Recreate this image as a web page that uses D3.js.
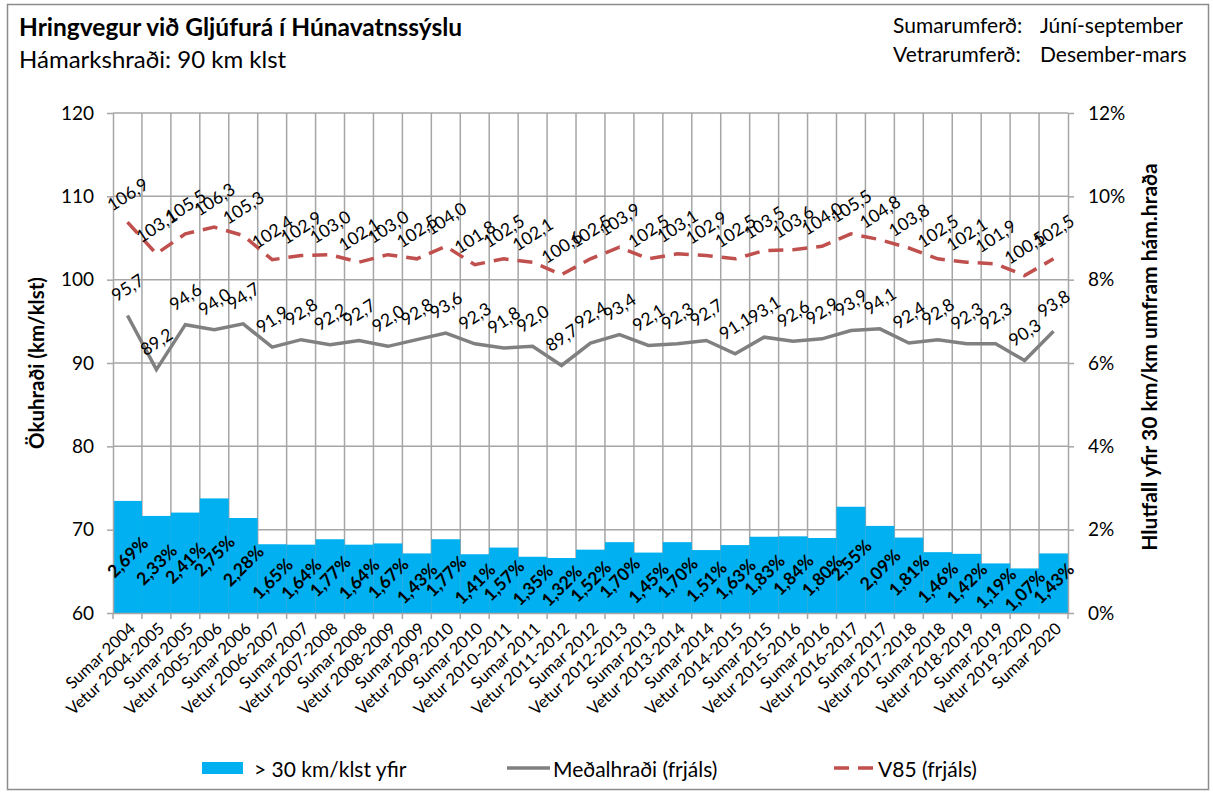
<!DOCTYPE html>
<html lang="is">
<head>
	<meta charset="UTF-8">
	<script type="text/javascript" src="https://d3js.org/d3.v7.min.js"></script>
	<title>Hringvegur við Gljúfurá</title>
	<style>
		body { margin: 0; background: #fff; }
		text { font-family: Lato, "Open Sans", sans-serif; fill: #000; }
		.grid line { stroke: #a6a6a6; stroke-width: 1.5; }
		.axis path, .axis line { stroke: #a6a6a6; stroke-width: 1.5; }
		.axis text { font-size: 19px; }
		.xaxis text { font-size: 16.5px; }
	</style>
</head>
<body>
<script type="text/javascript">
	// flokkar (tímabil)
	const periods = ["Sumar 2004", "Vetur 2004-2005", "Sumar 2005", "Vetur 2005-2006", "Sumar 2006",
		"Vetur 2006-2007", "Sumar 2007", "Vetur 2007-2008", "Sumar 2008", "Vetur 2008-2009",
		"Sumar 2009", "Vetur 2009-2010", "Sumar 2010", "Vetur 2010-2011", "Sumar 2011",
		"Vetur 2011-2012", "Sumar 2012", "Vetur 2012-2013", "Sumar 2013", "Vetur 2013-2014",
		"Sumar 2014", "Vetur 2014-2015", "Sumar 2015", "Vetur 2015-2016", "Sumar 2016",
		"Vetur 2016-2017", "Sumar 2017", "Vetur 2017-2018", "Sumar 2018", "Vetur 2018-2019",
		"Sumar 2019", "Vetur 2019-2020", "Sumar 2020"];
	// hlutfall > 30 km/klst yfir (%)
	const over30 = [2.69, 2.33, 2.41, 2.75, 2.28, 1.65, 1.64, 1.77, 1.64, 1.67,
		1.43, 1.77, 1.41, 1.57, 1.35, 1.32, 1.52, 1.70, 1.45, 1.70,
		1.51, 1.63, 1.83, 1.84, 1.80, 2.55, 2.09, 1.81, 1.46, 1.42,
		1.19, 1.07, 1.43];
	// meðalhraði (frjáls)
	const meanSpeed = [95.7, 89.2, 94.6, 94.0, 94.7, 91.9, 92.8, 92.2, 92.7, 92.0,
		92.8, 93.6, 92.3, 91.8, 92.0, 89.7, 92.4, 93.4, 92.1, 92.3,
		92.7, 91.1, 93.1, 92.6, 92.9, 93.9, 94.1, 92.4, 92.8, 92.3,
		92.3, 90.3, 93.8];
	// V85 (frjáls)
	const v85 = [106.9, 103.1, 105.5, 106.3, 105.3, 102.4, 102.9, 103.0, 102.1, 103.0,
		102.5, 104.0, 101.8, 102.5, 102.1, 100.6, 102.5, 103.9, 102.5, 103.1,
		102.9, 102.5, 103.5, 103.6, 104.0, 105.5, 104.8, 103.8, 102.5, 102.1,
		101.9, 100.5, 102.5];
	const speedTicks = [60, 70, 80, 90, 100, 110, 120];
	const pctTicks = [0, 2, 4, 6, 8, 10, 12];

	const svg = d3.select("body")
			.append("svg")
			.attr("width", 1213)
			.attr("height", 794),
		pLeft = 113, pRight = 1068, pTop = 113, pBottom = 613;

	const isLocale = d3.formatLocale({decimal: ",", thousands: ".", grouping: [3], currency: ["", " kr."]});
	const f1 = isLocale.format(".1f"),
		f2 = isLocale.format(".2f");

	// rammi
	svg.append("rect")
		.attr("x", 7.5).attr("y", 4.5)
		.attr("width", 1201).attr("height", 785)
		.attr("fill", "none")
		.attr("stroke", "#8c8c8c")
		.attr("stroke-width", 1.5);

	let x = d3.scaleBand().domain(periods).range([pLeft, pRight]).padding(0),
		y = d3.scaleLinear().domain([60, 120]).range([pBottom, pTop]),
		y2 = d3.scaleLinear().domain([0, 12]).range([pBottom, pTop]);

	// gridlines
	const grid = svg.append("g").attr("class", "grid");
	grid.selectAll(".h")
		.data(speedTicks)
		.enter()
		.append("line")
		.attr("x1", pLeft).attr("x2", pRight)
		.attr("y1", d => y(d)).attr("y2", d => y(d));
	grid.selectAll(".v")
		.data(periods.slice(1))
		.enter()
		.append("line")
		.attr("x1", d => x(d)).attr("x2", d => x(d))
		.attr("y1", pTop).attr("y2", pBottom);

	// súlur
	svg.selectAll(".bar")
		.data(over30)
		.enter()
		.append("rect")
		.attr("class", "bar")
		.attr("x", (d, i) => x(periods[i]))
		.attr("y", d => y2(d))
		.attr("width", x.bandwidth())
		.attr("height", d => pBottom - y2(d))
		.attr("fill", "#00b0f0");

	// axes
	svg.append("g")
		.attr("class", "axis")
		.attr("transform", "translate(" + pLeft + ",0)")
		.call(d3.axisLeft(y).tickValues(speedTicks).tickSize(6).tickPadding(13).tickSizeOuter(0));
	svg.append("g")
		.attr("class", "axis")
		.attr("transform", "translate(" + pRight + ",0)")
		.call(d3.axisRight(y2).tickValues(pctTicks).tickSize(6).tickPadding(14).tickSizeOuter(0)
			.tickFormat(d => d + "%"));
	const xAxis = svg.append("g")
		.attr("class", "axis xaxis")
		.attr("transform", "translate(0," + pBottom + ")")
		.call(d3.axisBottom(x).tickSize(0).tickSizeOuter(0));
	xAxis.selectAll(".tick text")
		.attr("text-anchor", "end")
		.attr("dy", null)
		.attr("y", 0)
		.attr("transform", "translate(9,17) rotate(-43)");
	xAxis.selectAll(".tickmark")
		.data(periods.concat(["end"]))
		.enter()
		.append("line")
		.attr("x1", (d, i) => pLeft + i * x.bandwidth())
		.attr("x2", (d, i) => pLeft + i * x.bandwidth())
		.attr("y1", 0).attr("y2", 6);

	const cx = i => x(periods[i]) + x.bandwidth() / 2;

	// línur
	svg.append("path")
		.datum(meanSpeed)
		.attr("fill", "none")
		.attr("stroke", "#808080")
		.attr("stroke-width", 3.5)
		.attr("d", d3.line().x((d, i) => cx(i)).y(d => y(d)));
	svg.append("path")
		.datum(v85)
		.attr("fill", "none")
		.attr("stroke", "#c0504d")
		.attr("stroke-width", 3.5)
		.attr("stroke-dasharray", "15,9")
		.attr("d", d3.line().x((d, i) => cx(i)).y(d => y(d)));

	// gildismerki
	function lineLabels(data) {
		svg.append("g").selectAll("text")
			.data(data)
			.enter()
			.append("text")
			.attr("text-anchor", "middle")
			.attr("dominant-baseline", "central")
			.style("font-size", "17.5px")
			.attr("transform", (d, i) => "translate(" + cx(i) + "," + (y(d) - 28) + ") rotate(-33)")
			.text(d => f1(d));
	}
	lineLabels(v85);
	lineLabels(meanSpeed);
	svg.append("g").selectAll("text")
		.data(over30)
		.enter()
		.append("text")
		.attr("text-anchor", "middle")
		.attr("dominant-baseline", "central")
		.style("font-size", "17.5px")
		.style("font-weight", "bold")
		.attr("transform", (d, i) => "translate(" + cx(i) + "," + (y2(d) + pBottom) / 2 + ") rotate(-45)")
		.text(d => f2(d) + "%");

	// titlar ása
	svg.append("text")
		.attr("transform", "translate(44,363) rotate(-90)")
		.attr("text-anchor", "middle")
		.style("font-size", "20.5px")
		.style("font-weight", "bold")
		.text("Ökuhraði (km/klst)");
	svg.append("text")
		.attr("transform", "translate(1157,357) rotate(-90)")
		.attr("text-anchor", "middle")
		.style("font-size", "21px")
		.style("font-weight", "bold")
		.text("Hlutfall yfir 30 km/km umfram hám.hraða");

	// fyrirsögn
	svg.append("text")
		.attr("x", 19).attr("y", 36)
		.style("font-size", "24.5px")
		.style("font-weight", "bold")
		.text("Hringvegur við Gljúfurá í Húnavatnssýslu");
	svg.append("text")
		.attr("x", 19).attr("y", 68)
		.style("font-size", "24px")
		.text("Hámarkshraði: 90 km klst");
	const notes = [["Sumarumferð:", "Júní-september"], ["Vetrarumferð:", "Desember-mars"]];
	notes.forEach(function (n, i) {
		svg.append("text").attr("x", 893).attr("y", 33 + i * 29).style("font-size", "21px").text(n[0]);
		svg.append("text").attr("x", 1040).attr("y", 33 + i * 29).style("font-size", "21px").text(n[1]);
	});

	// skýringar
	const lg = svg.append("g").attr("transform", "translate(0,768)");
	lg.append("rect").attr("x", 202).attr("y", -6).attr("width", 41).attr("height", 12).attr("fill", "#00b0f0");
	lg.append("text").attr("x", 254).attr("y", 0).attr("dominant-baseline", "central").style("font-size", "21px").text("> 30 km/klst yfir");
	lg.append("line").attr("x1", 507).attr("x2", 550).attr("y1", 0).attr("y2", 0)
		.attr("stroke", "#808080").attr("stroke-width", 3.5);
	lg.append("text").attr("x", 553).attr("y", 0).attr("dominant-baseline", "central").style("font-size", "21px").text("Meðalhraði (frjáls)");
	lg.append("line").attr("x1", 834).attr("x2", 875).attr("y1", 0).attr("y2", 0)
		.attr("stroke", "#c0504d").attr("stroke-width", 3.5).attr("stroke-dasharray", "15,9");
	lg.append("text").attr("x", 878).attr("y", 0).attr("dominant-baseline", "central").style("font-size", "21px").text("V85 (frjáls)");
</script>
</body>
</html>
